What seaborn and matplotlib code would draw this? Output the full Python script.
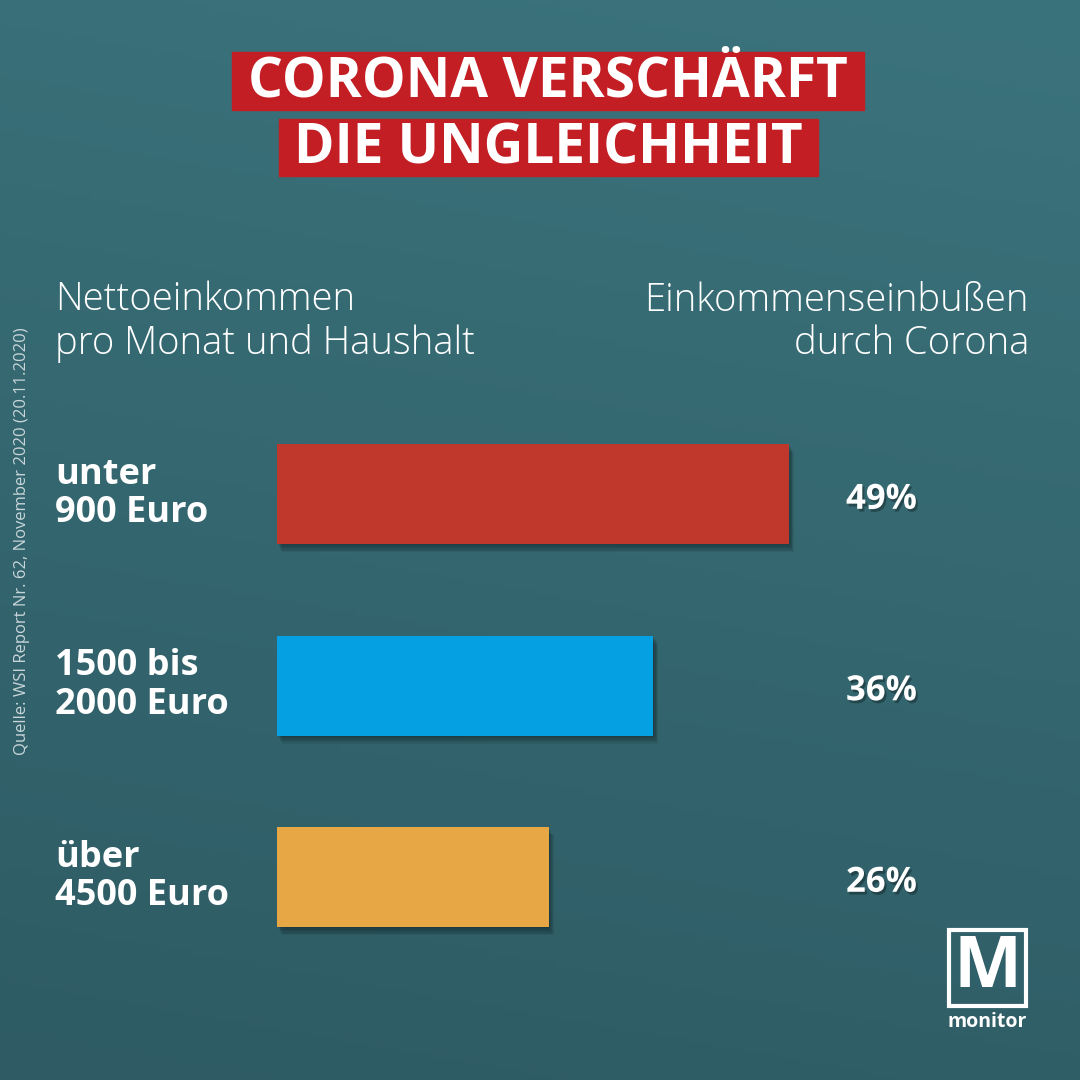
import numpy as np
import pandas as pd
import matplotlib
matplotlib.use("Agg")
import matplotlib.pyplot as plt
import matplotlib.patheffects as pe
from matplotlib.patches import Rectangle
from matplotlib.transforms import blended_transform_factory
import seaborn as sns

# ---- data ----
categories = ["unter\n900 Euro", "1500 bis\n2000 Euro", "über\n4500 Euro"]
values = [49, 36, 26]
value_labels = ["49%", "36%", "26%"]
bar_colors = ["#c0372b", "#04a0e2", "#e8a745"]
title_lines = ["CORONA VERSCHÄRFT", "DIE UNGLEICHHEIT"]
left_header = "Nettoeinkommen\npro Monat und Haushalt"
right_header = "Einkommenseinbußen\ndurch Corona"
source = "Quelle: WSI Report Nr. 62, November 2020 (20.11.2020)"
logo_text = "monitor"

sns.set_theme(style="white")
plt.rcParams['font.family'] = ['Open Sans', 'DejaVu Sans']

W = H = 1080
fig = plt.figure(figsize=(10.8, 10.8), dpi=100)

def fx(px):
    return px / W

def fy(py):
    return 1 - py / H

# ---- background gradient ----
bg = fig.add_axes([0, 0, 1, 1], zorder=0)
yy, xx = np.mgrid[0:1:200j, 0:1:200j]
t = np.clip(0.85 * yy + 0.15 * (1 - xx), 0, 1)
top = np.array([59, 115, 124]) / 255
bot = np.array([46, 91, 100]) / 255
img = top[None, None, :] * (1 - t[..., None]) + bot[None, None, :] * t[..., None]
bg.imshow(img, extent=[0, 1, 0, 1], aspect="auto", origin="upper")
bg.set_xlim(0, 1); bg.set_ylim(0, 1)
bg.axis("off")

# ---- bars ----
ax = fig.add_axes([fx(277), 0, fx(803), 1], zorder=2)
ax.set_facecolor("none")
df = pd.DataFrame({"label": categories, "value": values})
sns.barplot(data=df, y="label", x="value", hue="label", palette=bar_colors,
            orient="h", width=0.522, saturation=1, legend=False, ax=ax)
ax.set_xlim(0, 803 / 10.45)
ax.set_ylim(3.06, -2.58)
ax.axis("off")
soft_shadow = [pe.SimplePatchShadow(offset=(o * 0.6, -o), shadow_rgbFace="black", alpha=0.07)
               for o in (1, 2, 3, 4, 5, 6)]
for p in ax.patches:
    p.set_linewidth(0)
    p.set_path_effects(soft_shadow + [pe.Normal()])

tr = blended_transform_factory(fig.transFigure, ax.transData)
txt_shadow = [pe.SimplePatchShadow(offset=(1, -1), shadow_rgbFace="black", alpha=0.15)]
for i, (cat, vl) in enumerate(zip(categories, value_labels)):
    ax.text(fx(55), i, cat, transform=tr, ha="left", va="center", color="white",
            fontsize=26, fontweight="bold", linespacing=1.08)
    ax.text(fx(846), i + 0.03, vl, transform=tr, ha="left", va="center", color="white",
            fontsize=25, fontweight="bold",
            path_effects=[pe.withSimplePatchShadow(offset=(1.5, -2), shadow_rgbFace="black", alpha=0.3)])

# ---- title boxes ----
boxes = [(232, 52, 864, 110), (279, 119, 818, 176)]
for (x0, y0, x1, y1), line in zip(boxes, title_lines):
    fig.add_artist(Rectangle((fx(x0), fy(y1)), fx(x1 - x0), (y1 - y0) / H,
                             transform=fig.transFigure, color="#c41e25", zorder=3))
    fig.text(fx((x0 + x1) / 2), fy((y0 + y1) / 2 + 1), line, ha="center", va="center",
             color="white", fontsize=39.5, fontweight="bold", zorder=4)

# ---- headers ----
fig.text(fx(55), fy(322), left_header, ha="left", va="center", color="white",
         fontsize=27.5, fontweight="light", linespacing=1.15, zorder=4)
fig.text(fx(1029), fy(322), right_header, ha="right", va="center", color="white",
         fontsize=27.5, fontweight="light", linespacing=1.15, multialignment="right", zorder=4)

# ---- source ----
fig.text(fx(22), fy(541), source, rotation=90, ha="center", va="center",
         color="#c9d6da", fontsize=12, zorder=4)

# ---- logo ----
fig.add_artist(Rectangle((fx(949), fy(1006)), fx(77), 76 / H, transform=fig.transFigure,
                         facecolor="none", edgecolor="white", linewidth=3, zorder=4))
fig.text(fx(987.5), fy(968), "M", ha="center", va="center", color="white",
         fontsize=52, fontweight="bold", zorder=5)
fig.text(fx(987), fy(1022), logo_text, ha="center", va="center", color="white",
         fontsize=14, fontweight="bold", zorder=5)

fig.savefig("out.png", dpi=100)
